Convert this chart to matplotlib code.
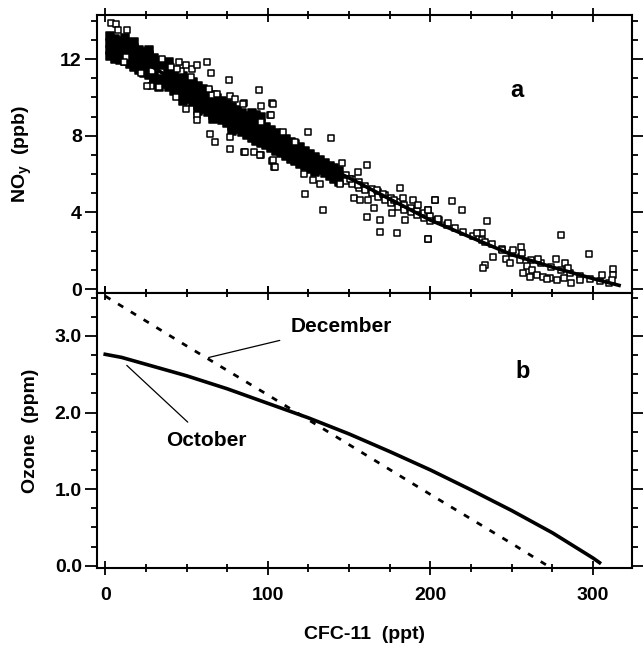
import matplotlib.pyplot as plt
from matplotlib.ticker import MultipleLocator

plt.rcParams['font.family'] = ['Liberation Sans', 'DejaVu Sans']
plt.rcParams['font.weight'] = 'bold'
plt.rcParams['mathtext.fontset'] = 'custom'
plt.rcParams['mathtext.rm'] = 'Liberation Sans:bold'
plt.rcParams['mathtext.it'] = 'Liberation Sans:bold'
plt.rcParams['mathtext.bf'] = 'Liberation Sans:bold'

# dense core of the NOy / CFC-11 scatter, one column of values per CFC-11 value
band_cfc = [3, 6, 9, 12, 15, 18, 21, 24, 27, 30, 33, 36, 39, 42, 45, 48, 51, 54, 57, 60,
            63, 66, 69, 72, 75, 78, 81, 84, 87, 90, 93, 96, 99, 102, 105, 108, 111, 114,
            117, 120, 123, 126, 129, 132, 135, 138, 141, 144]
band_noy = [
    [13.2, 12.85, 12.5, 12.15], [13.05, 12.7, 12.35, 12.0], [12.95, 12.6, 12.25, 11.95],
    [13.1, 12.9, 12.55, 12.2, 11.9], [12.75, 12.4, 12.05, 11.75], [12.9, 12.6, 12.25, 11.9, 11.6],
    [12.5, 12.15, 11.8, 11.45], [12.35, 12.0, 11.65, 11.3], [12.45, 12.2, 11.85, 11.5, 11.15],
    [12.05, 11.7, 11.35, 11.0, 10.7], [11.9, 11.55, 11.2, 10.85, 10.55], [11.75, 11.4, 11.05, 10.7],
    [11.85, 11.6, 11.25, 10.9, 10.55], [11.4, 11.05, 10.7, 10.35], [11.25, 10.9, 10.55, 10.2],
    [11.1, 10.75, 10.4, 10.05, 9.8], [10.95, 10.6, 10.25, 9.9], [10.8, 10.45, 10.1, 9.75],
    [10.6, 10.25, 9.9, 9.55, 9.3], [10.45, 10.1, 9.75, 9.4], [10.3, 9.95, 9.6, 9.25],
    [10.15, 9.8, 9.45, 9.1, 8.85], [9.95, 9.6, 9.3, 8.95], [9.8, 9.5, 9.15, 8.8],
    [9.65, 9.35, 9.0, 8.65], [9.5, 9.2, 8.85, 8.5, 8.25], [9.35, 9.05, 8.7, 8.35],
    [9.2, 8.9, 8.55, 8.2], [9.05, 8.75, 8.4, 8.05], [9.2, 8.9, 8.6, 8.25, 7.9],
    [9.1, 8.75, 8.45, 8.1, 7.75], [9.0, 8.6, 8.3, 7.95, 7.6], [8.45, 8.15, 7.8, 7.5],
    [8.3, 8.0, 7.7, 7.35], [8.15, 7.85, 7.55, 7.2], [8.0, 7.7, 7.4, 7.1],
    [7.85, 7.55, 7.25, 6.95], [7.7, 7.4, 7.1, 6.8], [7.55, 7.25, 6.95, 6.7],
    [7.4, 7.1, 6.8, 6.55], [7.2, 6.95, 6.65, 6.4], [7.05, 6.8, 6.5, 6.25],
    [6.9, 6.6, 6.35, 6.1], [6.75, 6.45, 6.2], [6.6, 6.3, 6.05],
    [6.45, 6.15, 5.9], [6.3, 6.0, 5.75], [6.15, 5.85, 5.6],
]

# sparser open squares along and around the curve
open_cfc = [148, 148, 152, 152, 156, 156, 160, 160, 164, 164, 168, 168, 172, 172, 176, 176,
            180, 180, 184, 184, 188, 188, 192, 192, 196, 196, 200, 200, 205, 210, 215, 220,
            226, 232, 238, 244, 250, 256, 262, 268, 274, 280, 286, 292, 298, 304, 310,
            3.3, 6.4, 7.8, 13.5, 12.5, 11.5, 21.7, 27.9, 25.8, 33, 35, 40.2, 45.3, 46.3,
            49.4, 53.5, 56.6, 62.7, 64.8, 76, 94.5, 102.7, 96.1, 101.6, 95.5, 43.3, 49.4,
            56.6, 56.6, 64.4, 67.8, 77, 77, 85.3, 91.4, 95.5, 102.7, 103.7, 85.3, 77, 80.1,
            65.8, 63.7, 68.9, 44.3, 52.5, 28.9, 34,
            85, 103, 101.9, 125, 139, 86, 95.3, 103, 104.5, 116.8, 109.6, 122, 128, 132,
            123, 134.2, 145.5, 160.9, 155.7, 150.6, 144.5, 155.7, 181.4, 167, 171.1, 152.7,
            156.8, 165, 160.9, 169, 177.3, 183.4, 189.5, 192.6, 198.8, 202.9, 203.9, 184.4,
            169, 179.7, 198.8, 176.2, 161.9,
            202.8, 213, 219.2, 198.7, 204.9, 211, 198.7, 234.6, 231.5, 228.4, 233.6, 238.7,
            233.6, 232.1, 243.8, 246.5, 249, 250.6, 255.5, 256.1, 255.1, 256.7, 259.2, 262.2,
            265.3, 265.9, 269.4, 273.5, 277.2, 277.6, 282.1, 282.7, 284.8, 286.2, 280.1,
            297.7, 292, 305.3, 312, 312, 311.4, 261.2, 271.5]
open_noy = [5.95, 5.65, 5.75, 5.5, 5.6, 5.3, 5.4, 5.15, 5.25, 5.0, 5.05, 4.8, 4.9, 4.65, 4.75, 4.5,
            4.55, 4.3, 4.4, 4.15, 4.25, 4.0, 4.1, 3.85, 3.95, 3.7, 3.8, 3.55, 3.6, 3.35, 3.2, 3.0,
            2.8, 2.55, 2.35, 2.1, 1.9, 1.7, 1.5, 1.35, 1.15, 1.0, 0.85, 0.7, 0.55, 0.45, 0.3,
            13.9, 13.85, 13.5, 13.5, 12.1, 11.85, 11.3, 10.6, 10.6, 10.55, 12.0, 11.6, 11.85, 11.4,
            11.7, 11.5, 11.7, 11.85, 11.25, 10.9, 10.4, 9.7, 9.56, 9.07, 8.7, 10.03, 9.4,
            9.07, 8.8, 8.1, 7.68, 7.94, 7.33, 7.16, 7.16, 7.0, 6.7, 6.38, 9.7, 10.1, 9.94,
            10.15, 10.46, 10.2, 11.5, 11.07, 11.4, 11.33,
            9.65, 9.65, 9.11, 8.21, 7.9, 7.16, 6.99, 6.73, 6.38, 7.68, 8.2, 6.03, 5.68, 5.51,
            4.99, 4.12, 6.59, 6.47, 6.12, 5.77, 5.51, 5.42, 5.3, 5.16, 4.99, 4.73,
            4.64, 4.21, 3.77, 3.6, 4.64, 4.73, 4.64, 4.38, 4.12, 4.64, 3.6, 3.6,
            2.99, 2.94, 2.6, 3.95, 4.64,
            4.65, 4.61, 4.12, 4.12, 3.64, 3.46, 2.6, 3.55, 2.94, 2.94, 2.47, 1.66,
            1.26, 1.08, 2.04, 1.6, 1.34, 2.04, 2.21, 1.9, 1.52, 0.86, 1.2, 0.99,
            0.73, 1.55, 0.65, 0.56, 1.59, 0.47, 0.56, 1.38, 1.13, 0.3, 2.85,
            1.86, 0.47, 0.73, 1.03, 0.73, 0.47, 0.65, 0.51]

fit_cfc = [3, 25, 50, 75, 100, 125, 150, 175, 200, 225, 250, 275, 300, 316]
fit_noy = [13.3, 11.8, 10.5, 9.2, 8.0, 6.85, 5.8, 4.7, 3.6, 2.7, 1.8, 1.15, 0.55, 0.2]

oct_cfc = [0, 10, 25, 50, 75, 100, 125, 150, 175, 200, 225, 250, 275, 300, 304]
oct_o3 = [2.76, 2.72, 2.63, 2.48, 2.31, 2.12, 1.93, 1.72, 1.49, 1.25, 0.99, 0.72, 0.43, 0.10, 0.04]

dec_cfc = [0, 50, 100, 150, 200, 250, 272]
dec_o3 = [3.52, 2.87, 2.23, 1.58, 0.93, 0.29, 0.0]

dense_x = [c for c, col in zip(band_cfc, band_noy) for v in col]
dense_y = [v for col in band_noy for v in col]

fig = plt.figure(figsize=(6.43, 6.46), dpi=100)
ax1 = fig.add_axes([0.151, 0.5464, 0.832, 0.4304])
ax2 = fig.add_axes([0.151, 0.1207, 0.832, 0.4257], sharex=ax1)

ax1.scatter(dense_x, dense_y, s=30, marker='s', facecolors='black', edgecolors='black', linewidths=1.1)
ax1.scatter(open_cfc, open_noy, s=18, marker='s', facecolors='white', edgecolors='black', linewidths=1.1)
ax1.plot(fit_cfc, fit_noy, color='black', lw=2.6)
ax1.text(253, 10.37, 'a', fontsize=17, fontweight='bold', ha='center', va='center')

ax2.plot(oct_cfc, oct_o3, color='black', lw=2.6)
ax2.plot(dec_cfc, dec_o3, color='black', lw=2.0, linestyle=(0, (2.2, 3.2)))
ax2.annotate('', xy=(62, 2.71), xytext=(109, 2.95), arrowprops=dict(arrowstyle='-', lw=0.9, color='black'))
ax2.annotate('', xy=(12, 2.64), xytext=(52, 1.85), arrowprops=dict(arrowstyle='-', lw=0.9, color='black'))
ax2.text(145, 3.12, 'December', fontsize=15, fontweight='bold', ha='center', va='center')
ax2.text(62, 1.64, 'October', fontsize=15, fontweight='bold', ha='center', va='center')
ax2.text(257, 2.53, 'b', fontsize=17, fontweight='bold', ha='center', va='center')

ax1.set_xlim(-5, 324)
ax1.set_ylim(-0.2, 14.3)
ax2.set_ylim(-0.03, 3.56)

for ax in (ax1, ax2):
    for sp in ax.spines.values():
        sp.set_linewidth(1.5)
    ax.xaxis.set_major_locator(MultipleLocator(100))
    ax.xaxis.set_minor_locator(MultipleLocator(25))
    ax.tick_params(axis='x', which='both', direction='inout', top=True, bottom=True, width=1.3)
    ax.tick_params(axis='x', which='major', length=10, pad=9, labelsize=14)
    ax.tick_params(axis='x', which='minor', length=6)
    ax.tick_params(axis='y', which='both', direction='out', left=True, right=True, width=1.3)
    ax.tick_params(axis='y', which='major', length=9, pad=2, labelsize=14)
    ax.tick_params(axis='y', which='minor', length=4)

ax1.yaxis.set_major_locator(MultipleLocator(4))
ax1.yaxis.set_minor_locator(MultipleLocator(1))
ax2.yaxis.set_major_locator(MultipleLocator(1))
ax2.yaxis.set_minor_locator(MultipleLocator(0.25))
ax2.set_yticks([0, 1, 2, 3])
ax2.set_yticklabels(['0.0', '1.0', '2.0', '3.0'])
ax1.tick_params(axis='x', labelbottom=False)

ax1.set_ylabel('NO$_y$  (ppb)', fontsize=14, fontweight='bold')
ax2.set_ylabel('Ozone  (ppm)', fontsize=14, fontweight='bold')
ax1.yaxis.set_label_coords(-0.118, 0.5)
ax2.yaxis.set_label_coords(-0.108, 0.5)
ax2.set_xlabel('CFC-11  (ppt)', fontsize=14, fontweight='bold')
ax2.xaxis.set_label_coords(0.5, -0.21)

plt.savefig('out.png', dpi=100)
